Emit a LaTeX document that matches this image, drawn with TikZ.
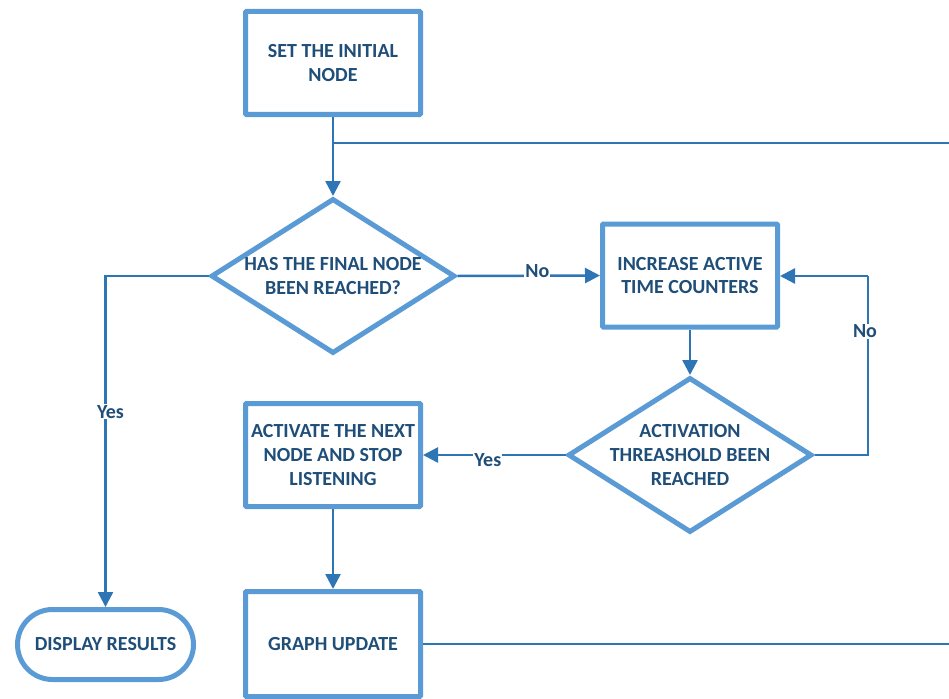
\documentclass[tikz,border=0pt]{standalone}
\usepackage{fontspec}
\setmainfont{Carlito}
\usetikzlibrary{shapes.geometric,shapes.misc,arrows.meta}
\definecolor{boxline}{HTML}{5B9BD5}
\definecolor{wire}{HTML}{2E75B6}
\definecolor{ink}{HTML}{1F4E79}
\tikzset{
  stepbox/.style={draw=boxline, line width=5pt, rounded corners=1pt, fill=white,
    minimum width=175pt, minimum height=103pt, inner sep=0pt},
  test/.style={draw=boxline, line width=5pt, diamond, fill=white,
    minimum width=244pt, minimum height=155pt, inner sep=0pt},
  terminal/.style={draw=boxline, line width=5pt, rounded rectangle, fill=white,
    minimum width=176pt, minimum height=70pt, inner sep=0pt},
  txt/.style={text=ink, font=\bfseries\fontsize{20}{23.8}\selectfont, align=center},
  wireline/.style={draw=wire, line width=2.5pt},
  flow/.style={wireline, -{Triangle[length=15pt,width=15pt]}},
  lbl/.style={text=ink, font=\bfseries\fontsize{20}{22}\selectfont, fill=white, inner sep=1pt}
}
\begin{document}
\begin{tikzpicture}[x=1pt,y=-1pt]
  \useasboundingbox (0,0) rectangle (949,698);
  % process boxes and decisions
  \node[stepbox] (start) at (333,63) {};
  \node[txt] (starttxt) at (333,63) {SET THE INITIAL\\NODE};
  \node[test] (d1) at (333,276) {};
  \node[txt] (d1txt) at (333,276) {HAS THE FINAL NODE\\BEEN REACHED?};
  \node[stepbox] (inc) at (690,275.5) {};
  \node[txt] (inctxt) at (690,275.5) {INCREASE ACTIVE\\TIME COUNTERS};
  \node[test] (d2) at (690,455) {};
  \node[txt] (d2txt) at (690,455) {ACTIVATION\\THREASHOLD BEEN\\REACHED};
  \node[stepbox] (act) at (333,455) {};
  \node[txt] (acttxt) at (333,455) {ACTIVATE THE NEXT\\NODE AND STOP\\LISTENING};
  \node[stepbox, minimum height=105pt] (upd) at (333,644) {};
  \node[txt] (updtxt) at (333,644) {GRAPH UPDATE};
  \node[terminal] (disp) at (105.5,644.5) {};
  \node[txt] (disptxt) at (105.5,644.5) {DISPLAY RESULTS};
  % free ends and bends
  \coordinate (br) at (333,143);
  \coordinate (rt) at (949,143);
  \coordinate (rb) at (949,644);
  \coordinate (loop) at (868,455);
  \coordinate (looptop) at (868,276);
  \coordinate (incin) at (inc.east |- looptop);
  % connectors
  \draw[flow] (start.south) -- (d1.north);
  \draw[wireline] (br) -- (rt);
  \draw[wireline] (upd.east) -- (rb);
  \draw[flow] (d1.west) -| node[lbl, pos=0.705, xshift=5pt] {Yes} (disp.north);
  \draw[flow] (d1.east) -- node[lbl, pos=0.56, yshift=5pt] {No} (inc.west);
  \draw[flow] (inc.south) -- (d2.north);
  \draw[wireline] (d2.east) -- (loop) -- node[lbl, pos=0.69, xshift=-3pt] {No} (looptop);
  \draw[flow] (looptop) -- (incin);
  \draw[flow] (d2.west) -- node[lbl, pos=0.545, yshift=-5pt] {Yes} (act.east);
  \draw[flow] (act.south) -- (upd.north);
\end{tikzpicture}
\end{document}
